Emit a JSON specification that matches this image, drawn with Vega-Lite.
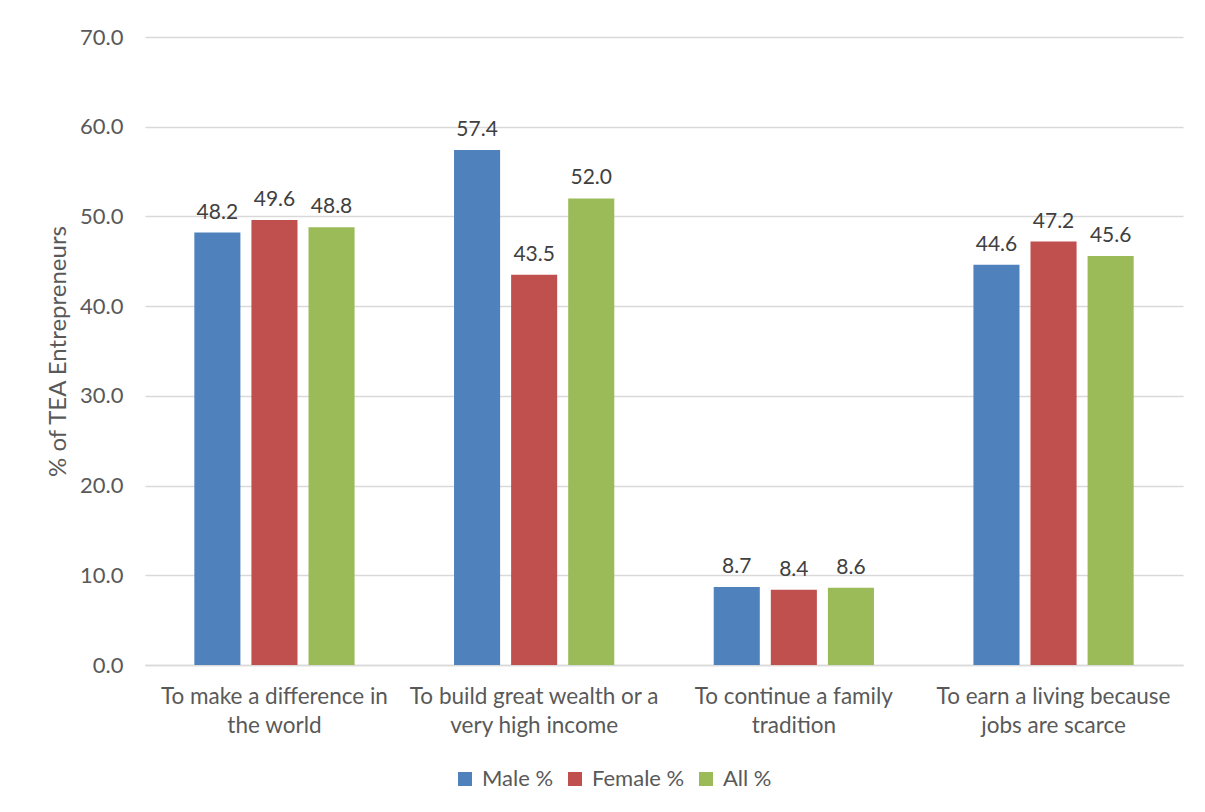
{
  "$schema": "https://vega.github.io/schema/vega-lite/v6.json",
  "width": 1038,
  "height": 628,
  "autosize": {"type": "none"},
  "padding": {"left": 145, "top": 37, "right": 22, "bottom": 147},
  "background": "white",
  "config": {
    "view": {"stroke": null},
    "font": "Lato",
    "axis": {"labelFont": "Lato", "titleFont": "Lato"},
    "legend": {"labelFont": "Lato"}
  },
  "data": {
    "values": [
      {"cat": "To make a difference in the world", "series": "Male %", "value": 48.2},
      {"cat": "To make a difference in the world", "series": "Female %", "value": 49.6},
      {"cat": "To make a difference in the world", "series": "All %", "value": 48.8},
      {"cat": "To build great wealth or a very high income", "series": "Male %", "value": 57.4},
      {"cat": "To build great wealth or a very high income", "series": "Female %", "value": 43.5},
      {"cat": "To build great wealth or a very high income", "series": "All %", "value": 52.0},
      {"cat": "To continue a family tradition", "series": "Male %", "value": 8.7},
      {"cat": "To continue a family tradition", "series": "Female %", "value": 8.4},
      {"cat": "To continue a family tradition", "series": "All %", "value": 8.6},
      {"cat": "To earn a living because jobs are scarce", "series": "Male %", "value": 44.6},
      {"cat": "To earn a living because jobs are scarce", "series": "Female %", "value": 47.2},
      {"cat": "To earn a living because jobs are scarce", "series": "All %", "value": 45.6}
    ]
  },
  "encoding": {
    "x": {
      "field": "cat",
      "type": "nominal",
      "sort": null,
      "scale": {"paddingInner": 0.383, "paddingOuter": 0.19},
      "axis": {
        "title": null,
        "labelAngle": 0,
        "labelFontSize": 22.5,
        "labelColor": "#595959",
        "labelPadding": 20,
        "labelLineHeight": 29,
        "labelBaseline": "top",
        "labelLimit": 0,
        "ticks": false,
        "domainColor": "#d9d9d9",
        "domainWidth": 1.5,
        "labelExpr": "datum.value == 'To make a difference in the world' ? ['To make a difference in', 'the world'] : datum.value == 'To build great wealth or a very high income' ? ['To build great wealth or a', 'very high income'] : datum.value == 'To continue a family tradition' ? ['To continue a family', 'tradition'] : ['To earn a living because', 'jobs are scarce']"
      }
    },
    "xOffset": {
      "field": "series",
      "type": "nominal",
      "sort": ["Male %", "Female %", "All %"],
      "scale": {"paddingInner": 0.193, "paddingOuter": 0}
    },
    "y": {
      "field": "value",
      "type": "quantitative",
      "scale": {"domain": [0, 70]},
      "axis": {
        "title": "% of TEA Entrepreneurs",
        "titleFontSize": 24,
        "titleFontWeight": "normal",
        "titleColor": "#595959",
        "titlePadding": 9,
        "values": [0, 10, 20, 30, 40, 50, 60, 70],
        "format": ".1f",
        "labelFontSize": 22,
        "labelColor": "#595959",
        "labelPadding": 22,
        "ticks": false,
        "domain": false,
        "gridColor": "#d9d9d9",
        "gridWidth": 1.5
      }
    }
  },
  "layer": [
    {
      "mark": {"type": "bar"},
      "encoding": {
        "color": {
          "field": "series",
          "type": "nominal",
          "sort": ["Male %", "Female %", "All %"],
          "scale": {"domain": ["Male %", "Female %", "All %"], "range": ["#4F81BD", "#C0504D", "#9BBB59"]},
          "legend": {
            "title": null,
            "orient": "none",
            "direction": "horizontal",
            "legendX": 309,
            "legendY": 731,
            "symbolType": "square",
            "symbolSize": 196,
            "symbolStrokeWidth": 0,
            "labelFontSize": 22,
            "labelColor": "#595959",
            "columnPadding": 10,
            "labelOffset": 6
          }
        }
      }
    },
    {
      "mark": {"type": "text", "baseline": "bottom", "dy": -10, "fontSize": 21, "color": "#404040"},
      "encoding": {
        "text": {"field": "value", "type": "quantitative", "format": ".1f"}
      }
    }
  ]
}
